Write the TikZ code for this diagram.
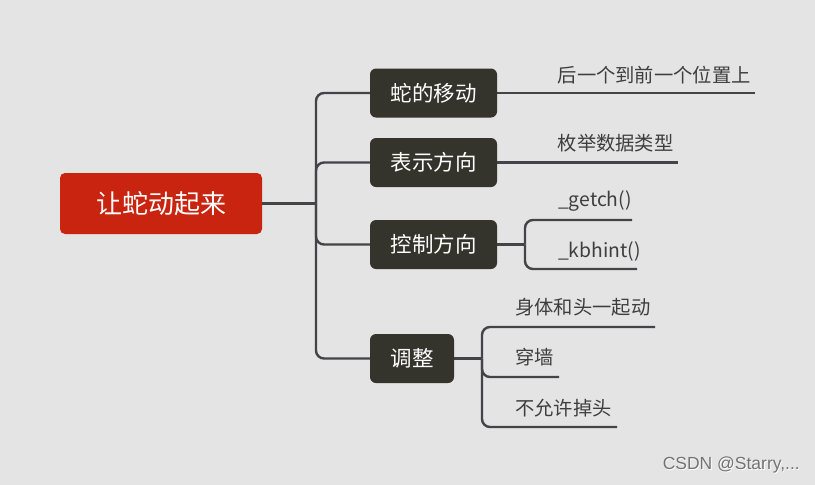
\documentclass[tikz,border=0pt]{standalone}
\usepackage{fontspec}
\setmainfont{Noto Sans CJK SC}
\newfontfamily\wmfont{Liberation Sans}
\definecolor{bgc}{RGB}{228,228,228}
\definecolor{nodec}{RGB}{52,52,44}
\definecolor{rootc}{RGB}{201,36,16}
\definecolor{linec}{RGB}{68,68,72}
\definecolor{leafc}{RGB}{62,62,62}
\tikzset{
  rootbox/.style={fill=rootc, rounded corners=5pt, text=white, font=\fontsize{26}{30}\selectfont, minimum width=202pt, minimum height=61pt, inner sep=0pt},
  topicbox/.style={fill=nodec, rounded corners=6pt, text=white, font=\fontsize{21.5}{26}\selectfont, minimum height=49pt, inner sep=0pt},
  leaftext/.style={anchor=west, inner sep=0pt, text=leafc, font=\fontsize{19.3}{23}\selectfont},
  conn/.style={draw=linec, line width=2.4pt, rounded corners=8pt},
}
\begin{document}
\begin{tikzpicture}[x=1pt,y=-1pt]
\fill[bgc] (0,0) rectangle (815,485);
\useasboundingbox (0,0) rectangle (815,485);

% nodes
\node[rootbox] (root) at (161,203.5) {让蛇动起来};
\node[topicbox, minimum width=127pt] (n1) at (433.5,93) {蛇的移动};
\node[topicbox, minimum width=127pt] (n2) at (433.5,162.5) {表示方向};
\node[topicbox, minimum width=127pt] (n3) at (433.5,244.5) {控制方向};
\node[topicbox, minimum width=84pt] (n4) at (412,358.5) {调整};

\node[leaftext] (l1) at (557.5,75) {后一个到前一个位置上};
\node[leaftext] (l2) at (557.5,143) {枚举数据类型};
\node[leaftext] (l3) at (558,201) {\_getch()};
\node[leaftext] (l4) at (558,251) {\_kbhint()};
\node[leaftext] (l5) at (515,307) {身体和头一起动};
\node[leaftext] (l6) at (515,357) {穿墙};
\node[leaftext] (l7) at (515,408) {不允许掉头};

% junctions and line ends
\coordinate (j0) at (316,203.5);
\coordinate (j3) at (525,244.5);
\coordinate (j4) at (482,358.5);
\coordinate (e1) at (755,93);
\coordinate (e2) at (678,162);
\coordinate (e3) at (632,220);
\coordinate (e4) at (637,269);
\coordinate (e5) at (655,327);
\coordinate (e6) at (559,377);
\coordinate (e7) at (617,427);

% connectors
\draw[conn] (root.east) -- (j0);
\draw[conn] (j0) |- (n1.west);
\draw[conn] (j0) |- (n2.west);
\draw[conn] (j0) |- (n3.west);
\draw[conn] (j0) |- (n4.west);

\draw[conn] (n1.east) -- (e1);
\draw[conn] (n2.east) -- (n2.east -| e2);
\draw[conn] (n3.east) -- (j3);
\draw[conn] (j3) |- (e3);
\draw[conn] (j3) |- (e4);
\draw[conn] (n4.east) -- (j4);
\draw[conn] (j4) |- (e5);
\draw[conn] (j4) |- (e6);
\draw[conn] (j4) |- (e7);

% watermark
\node[anchor=east, inner sep=0pt, text=white, font=\wmfont\fontsize{17.5}{20}\selectfont] (wms) at (800.8,465.8) {CSDN @Starry,...};
\node[anchor=east, inner sep=0pt, text=black!55, font=\wmfont\fontsize{17.5}{20}\selectfont] (wm) at (800,465) {CSDN @Starry,...};
\end{tikzpicture}
\end{document}
